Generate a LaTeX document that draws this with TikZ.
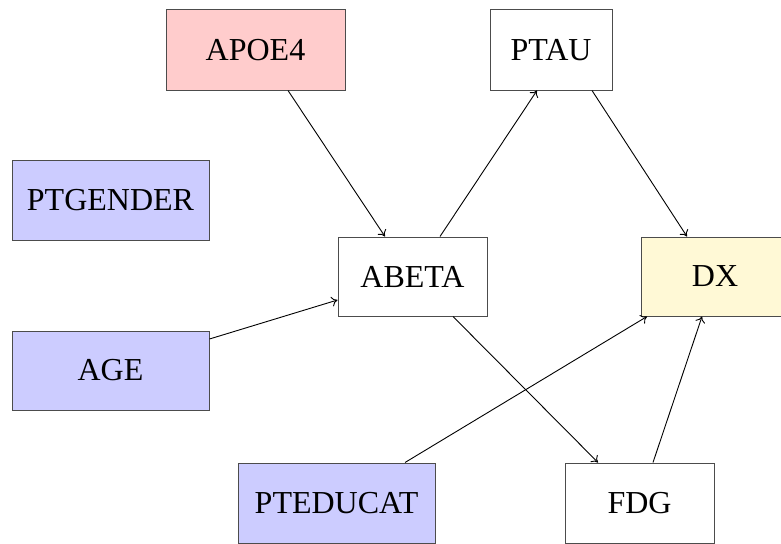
\documentclass[tikz,border=0pt]{standalone}
\usepackage{fontspec}
\setmainfont{Liberation Serif}
\usetikzlibrary{arrows.meta}
\definecolor{redfill}{RGB}{255,204,204}
\definecolor{bluefill}{RGB}{204,204,255}
\definecolor{yellowfill}{RGB}{255,249,214}
\begin{document}
\begin{tikzpicture}[x=1pt,y=-1pt,
  box/.style={draw=black!70, line width=1pt, rectangle, inner sep=0pt,
    font=\rmfamily\fontsize{32}{37}\selectfont},
  edge/.style={draw=black, line width=0.9pt, -{To[length=6pt,width=10pt]}}]
\useasboundingbox (0,0) rectangle (781,543);
\node[box, fill=redfill, minimum width=179pt, minimum height=80pt] (apoe) at (255.5,50) {APOE4};
\node[box, fill=white, minimum width=122pt, minimum height=80pt] (ptau) at (551,50) {PTAU};
\node[box, fill=bluefill, minimum width=197pt, minimum height=80pt] (ptgender) at (110.5,200) {PTGENDER};
\node[box, fill=white, minimum width=149pt, minimum height=79pt] (abeta) at (412.5,276.5) {ABETA};
\node[box, fill=yellowfill, minimum width=148pt, minimum height=79pt] (dx) at (715,276.5) {DX};
\node[box, fill=bluefill, minimum width=197pt, minimum height=79pt] (age) at (110.5,370.5) {AGE};
\node[box, fill=bluefill, minimum width=197pt, minimum height=80pt] (pteducat) at (336.5,503) {PTEDUCAT};
\node[box, fill=white, minimum width=149pt, minimum height=80pt] (fdg) at (639.5,503) {FDG};
\draw[edge] ([xshift=32.5pt]apoe.south) -- ([xshift=-27.5pt]abeta.north);
\draw[edge] ([xshift=27.5pt]abeta.north) -- ([xshift=-14pt]ptau.south);
\draw[edge] ([xshift=41pt]ptau.south) -- ([xshift=-28pt]dx.north);
\draw[edge] ([yshift=31.5pt]age.east) -- ([yshift=-23.5pt]abeta.west);
\draw[edge] ([xshift=40.5pt]abeta.south) -- ([xshift=-41.5pt]fdg.north);
\draw[edge] ([xshift=68.5pt]pteducat.north) -- ([xshift=-68pt]dx.south);
\draw[edge] ([xshift=13.5pt]fdg.north) -- ([xshift=-13pt]dx.south);
\end{tikzpicture}
\end{document}
